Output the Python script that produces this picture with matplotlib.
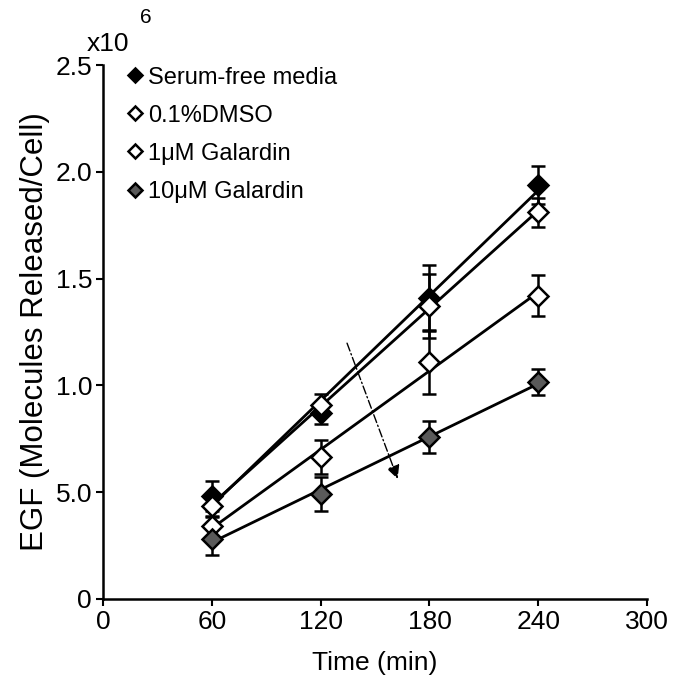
import matplotlib
matplotlib.use('Agg')
import matplotlib.pyplot as plt
import numpy as np

plt.rcParams['font.family'] = ['Liberation Sans', 'DejaVu Sans']

# data (x10^6 molecules/cell)
time_min = [60, 120, 180, 240]
serum_free = [0.48, 0.87, 1.41, 1.94]
serum_free_err = [0.07, 0.05, 0.155, 0.09]
dmso = [0.435, 0.91, 1.37, 1.81]
dmso_err = [0.05, 0.05, 0.15, 0.07]
galardin_1 = [0.34, 0.665, 1.11, 1.42]
galardin_1_err = [0.05, 0.08, 0.15, 0.095]
galardin_10 = [0.28, 0.49, 0.76, 1.015]
galardin_10_err = [0.075, 0.08, 0.075, 0.06]

y_ticks = [0, 0.5, 1.0, 1.5, 2.0, 2.5]
y_ticklabels = ['0', '5.0', '1.0', '1.5', '2.0', '2.5']
x_ticks = [0, 60, 120, 180, 240, 300]

series = [
    ('Serum-free media', serum_free, serum_free_err, 'black'),
    ('0.1%DMSO', dmso, dmso_err, 'white'),
    ('1\u03bcM Galardin', galardin_1, galardin_1_err, 'white'),
    ('10\u03bcM Galardin', galardin_10, galardin_10_err, '#5a5a5a'),
]

fig = plt.figure(figsize=(6.74, 6.86), dpi=100)
ax = fig.add_axes([0.153, 0.127, 0.807, 0.778])

t = np.array(time_min)
handles = []
for label, vals, err, face in series:
    # straight fitted line through each series
    k, b = np.polyfit(t, vals, 1)
    ax.plot([t[0], t[-1]], [k * t[0] + b, k * t[-1] + b], color='black', lw=2, zorder=2)
    ax.errorbar(t, vals, yerr=err, fmt='none', ecolor='black', elinewidth=1.8,
                capsize=5, capthick=1.8, zorder=3)
    h, = ax.plot(t, vals, linestyle='none', marker='D', markersize=10.5,
                 markerfacecolor=face, markeredgecolor='black', markeredgewidth=1.8,
                 zorder=4, label=label)
    handles.append(h)

# arrow showing the inhibition trend
ax.annotate('', xy=(163, 0.55), xytext=(134, 1.21),
            arrowprops=dict(arrowstyle='-|>', linestyle=(0, (6, 2, 1, 2)), lw=1,
                            color='black', mutation_scale=20))

ax.set_xlim(0, 300)
ax.set_ylim(0, 2.5)
ax.set_xticks(x_ticks)
ax.set_yticks(y_ticks)
ax.set_yticklabels(y_ticklabels)
ax.tick_params(labelsize=19, direction='out', length=5, width=1.5, pad=3)
for s in ['top', 'right']:
    ax.spines[s].set_visible(False)
for s in ['left', 'bottom']:
    ax.spines[s].set_linewidth(1.8)

ax.set_xlabel('Time (min)', fontsize=19, labelpad=12)
ax.set_ylabel('EGF (Molecules Released/Cell)', fontsize=22.5, labelpad=4)
fig.text(0.128, 0.925, 'x10', fontsize=19, ha='left', va='baseline')
fig.text(0.208, 0.966, '6', fontsize=15, ha='left', va='baseline')

ax.legend(handles=handles, loc='upper left', bbox_to_anchor=(0.02, 1.015), frameon=False,
          fontsize=17, handletextpad=0.05, handlelength=1.0, labelspacing=0.68,
          markerscale=0.7, borderaxespad=0)

fig.savefig('out.png', dpi=100)
